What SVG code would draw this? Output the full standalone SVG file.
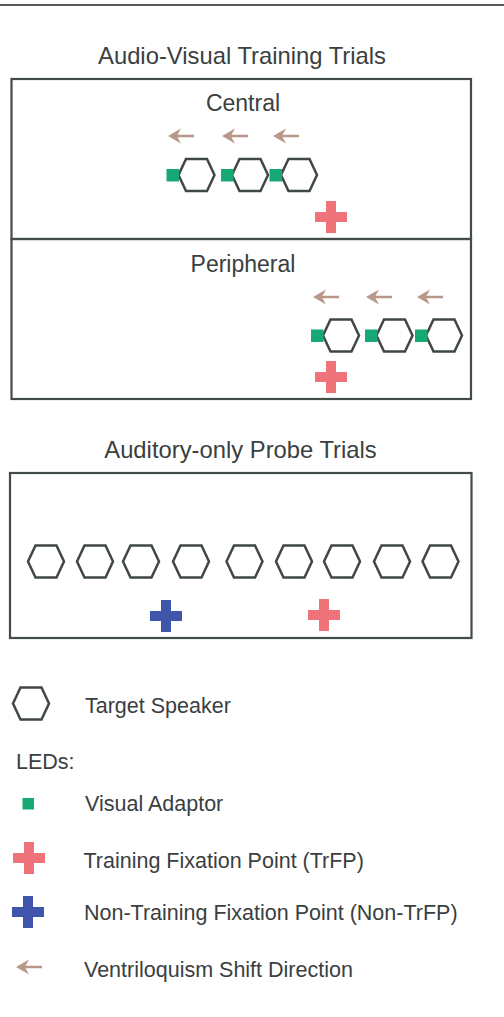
<svg xmlns="http://www.w3.org/2000/svg" xmlns:xlink="http://www.w3.org/1999/xlink" width="504" height="1017" viewBox="0 0 504 1017">
<style>
text{font-family:"Liberation Sans",Arial,sans-serif;fill:#3a4040}
.title{font-size:23.8px;text-anchor:middle}
.sub{font-size:23px;text-anchor:middle}
.leg{font-size:21.5px}
.box{fill:none;stroke:#434b4b;stroke-width:2.2}
.hex{fill:#fff;stroke:#3f4747;stroke-width:2.5;stroke-linejoin:miter}
.led{fill:#17a974}
.red{fill:#ee747a}
.blue{fill:#3f56aa}
.arr{fill:#ba978b}
</style>
<defs>
<path id="hx" class="hex" d="M-18,0 L-10.5,-16 L10.5,-16 L18,0 L10.5,16 L-10.5,16 Z"/>
<path id="cr" d="M-5,-16 h10 v11 h11 v10 h-11 v11 h-10 v-11 h-11 v-10 h11 z"/>
<path id="ar" d="M0,0 L13,-7.5 L9.5,-1.3 L26,-1.3 L26,1.3 L9.5,1.3 L13,7.5 Z"/>
</defs>
<rect width="504" height="1017" fill="#fff"/>
<line x1="0" y1="5" x2="504" y2="5" stroke="#555b5b" stroke-width="2"/>

<g id="av-training">
<text class="title" x="242" y="64">Audio-Visual Training Trials</text>
<g id="central">
<rect class="box" x="11.5" y="79" width="459.5" height="160"/>
<text class="sub" x="243" y="111">Central</text>
<use xlink:href="#hx" x="196.5" y="175"/>
<use xlink:href="#hx" x="250" y="175"/>
<use xlink:href="#hx" x="299" y="175"/>
<rect class="led" x="166.5" y="169" width="12.5" height="12.5"/>
<rect class="led" x="221" y="169" width="12.5" height="12.5"/>
<rect class="led" x="269.5" y="169" width="12.5" height="12.5"/>
<use xlink:href="#cr" class="red" x="331" y="217"/>
</g>
<g id="peripheral">
<rect class="box" x="11.5" y="239" width="459.5" height="160"/>
<text class="sub" x="243" y="272">Peripheral</text>
<use xlink:href="#hx" x="341" y="335.5"/>
<use xlink:href="#hx" x="394.5" y="335.5"/>
<use xlink:href="#hx" x="444" y="335.5"/>
<rect class="led" x="311" y="329.5" width="12.5" height="12.5"/>
<rect class="led" x="365" y="329.5" width="12.5" height="12.5"/>
<rect class="led" x="415" y="329.5" width="12.5" height="12.5"/>
<use xlink:href="#cr" class="red" x="331" y="377"/>
</g>
</g>

<g id="connectors">
<use xlink:href="#ar" class="arr" x="168" y="136"/>
<use xlink:href="#ar" class="arr" x="222" y="136"/>
<use xlink:href="#ar" class="arr" x="273" y="136"/>
<use xlink:href="#ar" class="arr" x="313" y="297"/>
<use xlink:href="#ar" class="arr" x="366" y="297"/>
<use xlink:href="#ar" class="arr" x="417" y="297"/>
</g>

<g id="probe">
<text class="title" x="240.5" y="458">Auditory-only Probe Trials</text>
<rect class="box" x="10" y="473" width="461.5" height="165"/>
<use xlink:href="#hx" x="46" y="561.5"/>
<use xlink:href="#hx" x="95" y="561.5"/>
<use xlink:href="#hx" x="141" y="561.5"/>
<use xlink:href="#hx" x="191" y="561.5"/>
<use xlink:href="#hx" x="244.5" y="561.5"/>
<use xlink:href="#hx" x="294" y="561.5"/>
<use xlink:href="#hx" x="342" y="561.5"/>
<use xlink:href="#hx" x="392" y="561.5"/>
<use xlink:href="#hx" x="440.5" y="561.5"/>
<use xlink:href="#cr" class="blue" x="166" y="616"/>
<use xlink:href="#cr" class="red" x="324" y="615"/>
</g>

<g id="legend">
<g id="leg-speaker">
<use xlink:href="#hx" x="31" y="703.5"/>
<text class="leg" x="85" y="713">Target Speaker</text>
</g>
<text class="leg" x="16" y="769">LEDs:</text>
<g id="leg-led">
<rect class="led" x="22.5" y="798" width="11.5" height="11.5"/>
<text class="leg" x="85" y="811">Visual Adaptor</text>
</g>
<g id="leg-trfp">
<use xlink:href="#cr" class="red" x="29" y="858"/>
<text class="leg" x="83.5" y="868">Training Fixation Point (TrFP)</text>
</g>
<g id="leg-nontrfp">
<use xlink:href="#cr" class="blue" x="28" y="912"/>
<text class="leg" x="84" y="920">Non-Training Fixation Point (Non-TrFP)</text>
</g>
<g id="leg-shift">
<use xlink:href="#ar" class="arr" x="16" y="967"/>
<text class="leg" x="84" y="977">Ventriloquism Shift Direction</text>
</g>
</g>
</svg>
